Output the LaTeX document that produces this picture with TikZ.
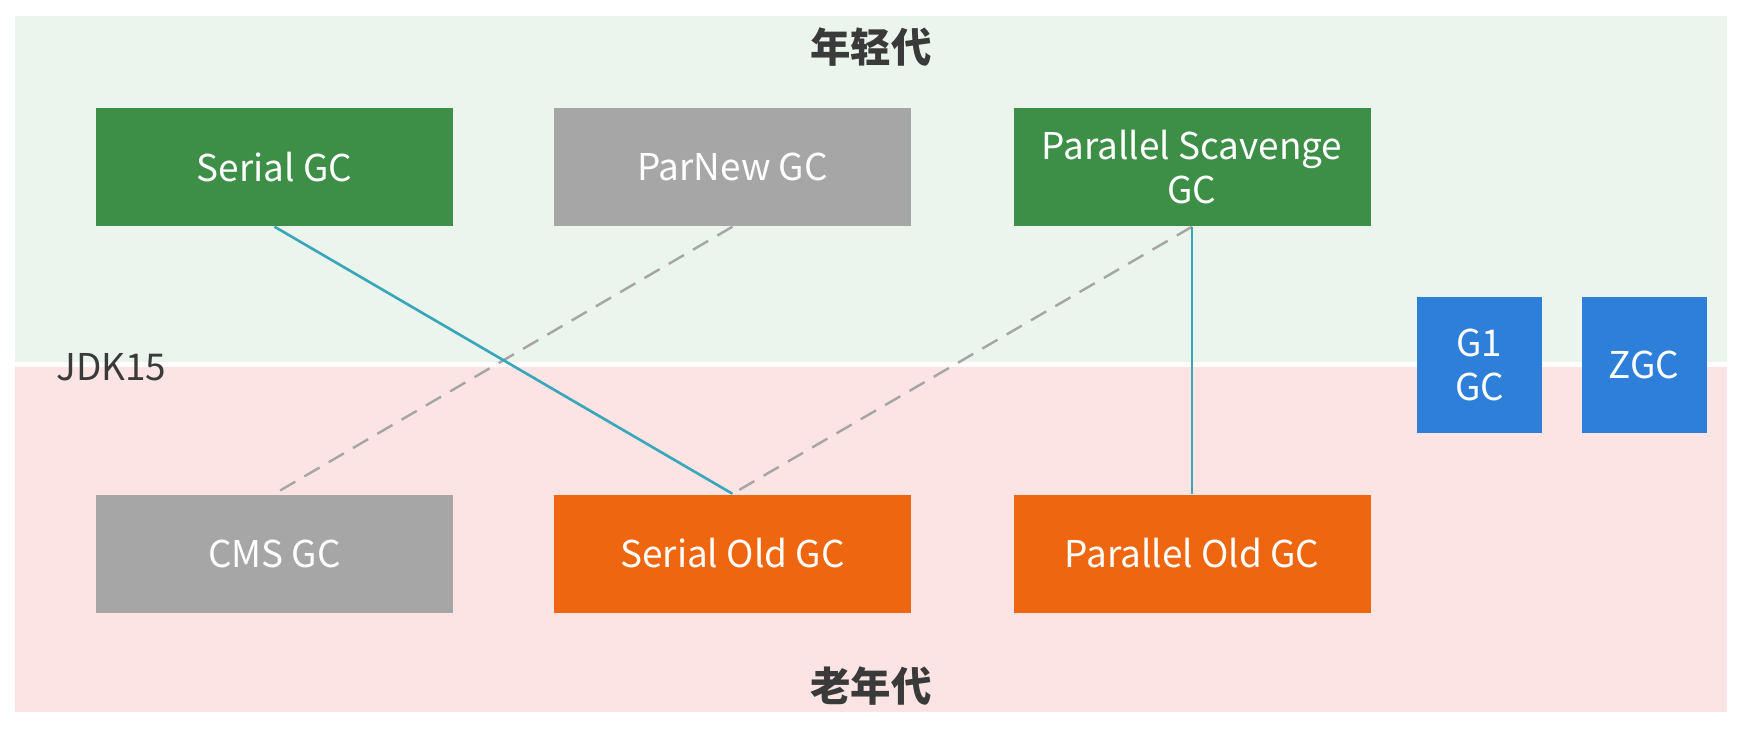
\documentclass[tikz,border=0pt]{standalone}
\usepackage{fontspec}
\setmainfont{Noto Sans CJK SC}
\usetikzlibrary{positioning}
\definecolor{youngbg}{HTML}{EBF5EE}
\definecolor{oldbg}{HTML}{FDE4E4}
\definecolor{gcgreen}{HTML}{3D8F47}
\definecolor{gcgray}{HTML}{A6A6A6}
\definecolor{gcorange}{HTML}{EE660F}
\definecolor{gcblue}{HTML}{2E7FD9}
\definecolor{linkteal}{HTML}{3AA6B9}
\definecolor{textdark}{HTML}{3A3A3A}

\begin{document}
\begin{tikzpicture}[
  gc/.style={rectangle, minimum width=3.57cm, minimum height=1.18cm, inner sep=2pt,
    text=white, align=center, font=\fontsize{10.5}{12.5}\selectfont},
  small/.style={gc, minimum width=1.25cm, minimum height=1.36cm, fill=gcblue},
  band/.style={font=\fontsize{11.5}{13}\selectfont\bfseries, textdark},
  solidlink/.style={linkteal, line width=0.75pt},
  dashlink/.style={gcgray, line width=0.7pt, dashed, dash pattern=on 5pt off 3pt}
]
  \useasboundingbox[fill=white] (0,0) rectangle (17.58,7.30);
  % generations
  \fill[youngbg] (0.15,3.68) rectangle (17.27,7.14);
  \fill[oldbg] (0.15,0.18) rectangle (17.27,3.63);
  \node[band] (young) at (8.71,6.83) {年轻代};
  \node[band] (old) at (8.71,0.44) {老年代};
  \node[font=\fontsize{10.5}{12.5}\selectfont, textdark, anchor=west] (jdk) at (0.44,3.63) {JDK15};
  % collectors
  \node[gc, fill=gcgreen] (serial) at (2.745,5.63) {Serial GC};
  \node[gc, fill=gcgray] (parnew) at (7.325,5.63) {ParNew GC};
  \node[gc, fill=gcgreen] (scavenge) at (11.92,5.63) {Parallel Scavenge\\GC};
  \node[gc, fill=gcgray] (cms) at (2.745,1.765) {CMS GC};
  \node[gc, fill=gcorange] (serialold) at (7.325,1.765) {Serial Old GC};
  \node[gc, fill=gcorange] (parallelold) at (11.92,1.765) {Parallel Old GC};
  \node[small] (g1) at (14.795,3.65) {G1\\GC};
  \node[small] (zgc) at (16.44,3.65) {ZGC};
  % combinations
  \draw[dashlink] (parnew.south) -- (cms.north);
  \draw[dashlink] (scavenge.south) -- (serialold.north);
  \draw[solidlink] (serial.south) -- (serialold.north);
  \draw[solidlink] (scavenge.south) -- (parallelold.north);
\end{tikzpicture}
\end{document}
